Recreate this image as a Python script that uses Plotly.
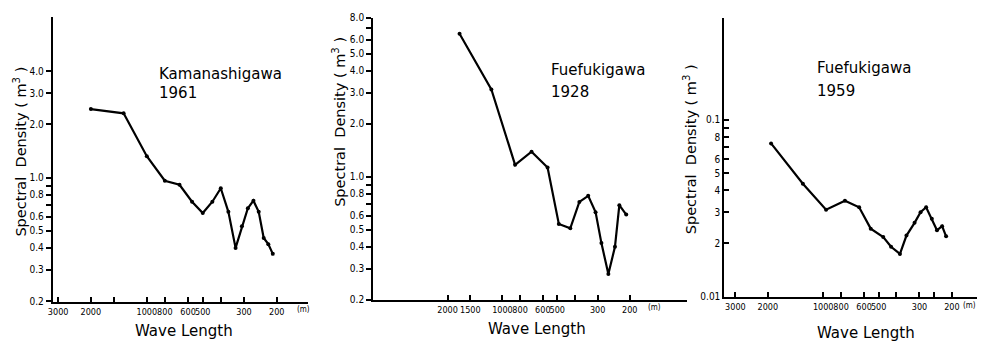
import plotly.graph_objects as go
import math

W, H = 985, 349

# ---------------- data ----------------
# Kamanashigawa 1961
wave_1961 = [2000, 1333, 1000, 800, 667, 571, 500, 444, 400, 364, 333, 308, 286, 267, 250, 235, 222, 210]
dens_1961 = [2.44, 2.31, 1.32, 0.96, 0.91, 0.73, 0.63, 0.73, 0.87, 0.64, 0.40, 0.53, 0.67, 0.74, 0.64, 0.455, 0.42, 0.37]

# Fuefukigawa 1928
wave_1928 = [1720, 1150, 852, 692, 565, 490, 424, 378, 338, 308, 286, 262, 241, 228, 209]
dens_1928 = [6.5, 3.14, 1.17, 1.39, 1.13, 0.54, 0.51, 0.72, 0.78, 0.63, 0.42, 0.28, 0.40, 0.69, 0.61]

# Fuefukigawa 1959
wave_1959 = [1920, 1290, 965, 762, 638, 552, 472, 428, 383, 353, 319, 296, 276, 257, 241, 226, 215]
dens_1959 = [0.0736, 0.0435, 0.031, 0.0348, 0.032, 0.0242, 0.0217, 0.0191, 0.0174, 0.0221, 0.0261,
             0.030, 0.032, 0.0275, 0.0237, 0.025, 0.0219]

# axis ticks
y1_vals = [4, 3, 2, 1, 0.9, 0.8, 0.7, 0.6, 0.5, 0.4, 0.3, 0.2]
y1_text = ["4.0", "3.0", "2.0", "1.0", "", "0.8", "", "0.6", "0.5", "0.4", "0.3", "0.2"]
y2_vals = [8, 7, 6, 5, 4, 3, 2, 1, 0.9, 0.8, 0.7, 0.6, 0.5, 0.4, 0.3, 0.2]
y2_text = ["8.0", "", "6.0", "5.0", "4.0", "3.0", "2.0", "1.0", "", "0.8", "", "0.6", "0.5", "0.4", "0.3", "0.2"]
y3_vals = [0.1, 0.09, 0.08, 0.07, 0.06, 0.05, 0.04, 0.03, 0.02, 0.01]
y3_text = ["0.1", "", "8", "", "6", "5", "4", "3", "2", "0.01"]

x1_vals = [3000, 2000, 1500, 1000, 800, 600, 500, 400, 300, 200]
x1_text = ["3000", "2000", "", "1000", "800", "600", "500", "", "300", "200"]
x2_vals = [2000, 1500, 1000, 800, 600, 500, 400, 300, 200]
x2_text = ["2000", "1500", "1000", "800", "600", "500", "", "300", "200"]
x3_vals = [3000, 2000, 1000, 800, 600, 500, 400, 300, 250, 200]
x3_text = ["3000", "2000", "1000", "800", "600", "500", "", "300", "", "200"]

titles = [("Kamanashigawa", "1961"), ("Fuefukigawa", "1928"), ("Fuefukigawa", "1959")]

NARROW = "Liberation Sans Narrow, DejaVu Sans Condensed, Arial Narrow, sans-serif"
YTICKFONT = dict(family=NARROW, size=10, color="black")
XTICKFONT = dict(family=NARROW, size=9, color="black")
TEXTFONT = dict(family="DejaVu Sans, Verdana, sans-serif", size=15, color="black")
YTITLEFONT = dict(family="DejaVu Sans, Verdana, sans-serif", size=14.5, color="black")

# panel geometry in pixels (left, right, bottom, top) and ranges
panels = [
    dict(l=48, r=305, b=306, t=12, xr=(3207, 135), yr=(0.197, 8.14),
         xv=x1_vals, xt=x1_text, yv=y1_vals, yt=y1_text, yticks="outside",
         x=wave_1961, y=dens_1961,
         ytitle=(15, 151), ann=(153, 71, 91), wl=(180, 336), m=(300, 313)),
    dict(l=370, r=685, b=303.5, t=13.3, xr=(5130, 97.5), yr=(0.2, 8.0),
         xv=x2_vals, xt=x2_text, yv=y2_vals, yt=y2_text, yticks="outside",
         x=wave_1928, y=dens_1928,
         ytitle=(335, 120), ann=(547, 67, 90), wl=(535, 334), m=(653, 311)),
    dict(l=723, r=977, b=301, t=13, xr=(3445, 146), yr=(0.00987, 0.38),
         xv=x3_vals, xt=x3_text, yv=y3_vals, yt=y3_text, yticks="inside",
         x=wave_1959, y=dens_1959,
         ytitle=(688, 149), ann=(814, 65, 89), wl=(865, 338), m=(969, 309)),
]

fig = go.Figure()
annotations = []
layout = {}
for i, p in enumerate(panels, start=1):
    xa = "x" if i == 1 else f"x{i}"
    ya = "y" if i == 1 else f"y{i}"
    fig.add_trace(go.Scatter(
        x=p["x"], y=p["y"], xaxis=xa, yaxis=ya, mode="lines+markers",
        line=dict(color="black", width=2.2),
        marker=dict(size=4, color="black"),
        showlegend=False, hoverinfo="x+y"))
    layout["xaxis" if i == 1 else f"xaxis{i}"] = dict(
        type="log", domain=[p["l"] / W, p["r"] / W],
        range=[math.log10(p["xr"][0]), math.log10(p["xr"][1])],
        anchor=ya, showline=True, linecolor="black", linewidth=2,
        showgrid=False, zeroline=False, ticks="inside", ticklen=5,
        tickwidth=1.5, tickcolor="black", tickmode="array",
        tickvals=p["xv"], ticktext=p["xt"], tickfont=XTICKFONT, tickangle=0)
    layout["yaxis" if i == 1 else f"yaxis{i}"] = dict(
        type="log", domain=[1 - p["b"] / H, 1 - p["t"] / H],
        range=[math.log10(p["yr"][0]), math.log10(p["yr"][1])],
        anchor=xa, showline=True, linecolor="black", linewidth=2,
        showgrid=False, zeroline=False, ticks=p["yticks"], ticklen=5,
        tickwidth=1.5, tickcolor="black", tickmode="array",
        tickvals=p["yv"], ticktext=p["yt"], tickfont=YTICKFONT)
    # y-axis title
    annotations.append(dict(
        text="Spectral\u00a0\u00a0Density\u00a0(\u00a0m<sup>3</sup>\u00a0)",
        x=p["ytitle"][0] / W, y=1 - p["ytitle"][1] / H, xref="paper", yref="paper",
        textangle=-90, showarrow=False, font=YTITLEFONT, xanchor="center", yanchor="middle"))
    # river name and year
    annotations.append(dict(text=titles[i - 1][0], x=p["ann"][0] / W, y=1 - p["ann"][1] / H,
                            xref="paper", yref="paper", showarrow=False, font=TEXTFONT,
                            xanchor="left", yanchor="middle"))
    annotations.append(dict(text=titles[i - 1][1], x=p["ann"][0] / W, y=1 - p["ann"][2] / H,
                            xref="paper", yref="paper", showarrow=False, font=TEXTFONT,
                            xanchor="left", yanchor="middle"))
    # x title
    annotations.append(dict(text="Wave Length", x=p["wl"][0] / W, y=1 - p["wl"][1] / H,
                            xref="paper", yref="paper", showarrow=False,
                            font=dict(family="DejaVu Sans, sans-serif", size=15, color="black"),
                            xanchor="center", yanchor="middle"))
    # unit
    annotations.append(dict(text="(m)", x=p["m"][0] / W, y=1 - p["m"][1] / H,
                            xref="paper", yref="paper", showarrow=False,
                            font=dict(family=NARROW, size=8, color="black"),
                            xanchor="center", yanchor="middle"))

fig.update_layout(
    width=W, height=H, margin=dict(l=0, r=0, t=0, b=0),
    paper_bgcolor="white", plot_bgcolor="white",
    annotations=annotations, **layout)

fig.write_html("out.html")
